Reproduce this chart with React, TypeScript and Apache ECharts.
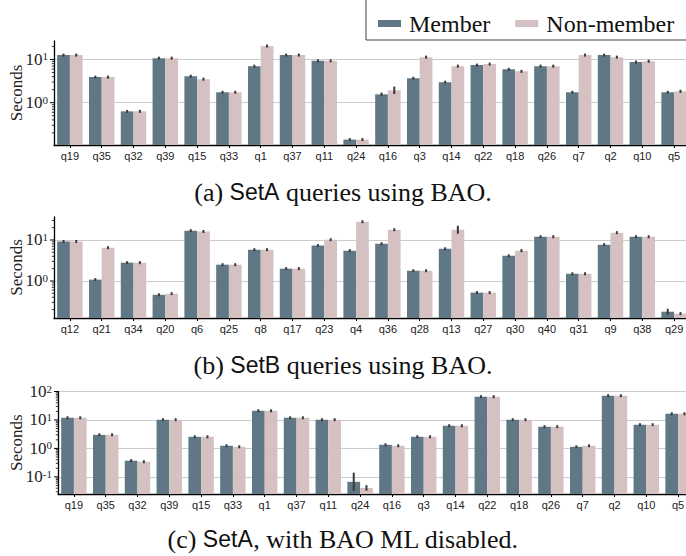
import React, { useEffect, useRef } from 'react';
import * as echarts from 'echarts';

// ---------- data ----------
const catsA = ['q19', 'q35', 'q32', 'q39', 'q15', 'q33', 'q1', 'q37', 'q11', 'q24', 'q16', 'q3', 'q14', 'q22', 'q18', 'q26', 'q7', 'q2', 'q10', 'q5'];
const memberA = [12.6, 3.9, 0.63, 10.7, 4.1, 1.74, 7.0, 12.6, 9.3, 0.14, 1.56, 3.67, 2.97, 7.4, 5.9, 7.0, 1.74, 12.6, 8.7, 1.74];
const nonMemberA = [12.6, 3.9, 0.63, 10.7, 3.5, 1.74, 20.4, 12.6, 9.3, 0.14, 1.93, 11.3, 7.0, 7.8, 5.3, 7.0, 12.6, 11.3, 9.1, 1.83];
// multiplicative error spread (value*f .. value/f)
const errMemberA = [1.02, 1.01, 1.01, 1.01, 1.02, 1.01, 1.02, 1.01, 1.02, 1.01, 1.1, 1.01, 1.02, 1.02, 1.03, 1.01, 1.01, 1.07, 1.06, 1.02];
const errNonMemberA = [1.01, 1.01, 1.01, 1.01, 1.01, 1.01, 1.01, 1.01, 1.01, 1.05, 1.22, 1.01, 1.01, 1.06, 1.01, 1.01, 1.02, 1.01, 1.06, 1.02];

const catsB = ['q12', 'q21', 'q34', 'q20', 'q6', 'q25', 'q8', 'q17', 'q23', 'q4', 'q36', 'q28', 'q13', 'q27', 'q30', 'q40', 'q31', 'q9', 'q38', 'q29'];
const memberB = [9.2, 1.08, 2.8, 0.46, 16.9, 2.5, 5.8, 2.0, 7.3, 5.5, 8.1, 1.78, 6.1, 0.52, 4.1, 12.0, 1.5, 7.7, 12.0, 0.178];
const nonMemberB = [9.2, 6.5, 2.8, 0.49, 16.2, 2.5, 5.8, 2.0, 10.2, 27.9, 17.8, 1.78, 17.8, 0.52, 5.5, 12.0, 1.5, 15.1, 12.0, 0.16];
const errMemberB = [1.01, 1.04, 1.01, 1.01, 1.04, 1.01, 1.01, 1.01, 1.01, 1.01, 1.01, 1.01, 1.02, 1.01, 1.01, 1.01, 1.01, 1.01, 1.01, 1.18];
const errNonMemberB = [1.01, 1.01, 1.01, 1.02, 1.01, 1.01, 1.01, 1.01, 1.04, 1.01, 1.01, 1.01, 1.25, 1.02, 1.01, 1.01, 1.01, 1.01, 1.01, 1.02];

const catsC = catsA;
const memberC = [11.9, 3.0, 0.37, 10.2, 2.56, 1.24, 21, 11.9, 10.2, 0.067, 1.34, 2.56, 6.25, 65.6, 10.2, 5.8, 1.14, 71, 6.8, 16.5];
const nonMemberC = [11.9, 3.0, 0.34, 10.2, 2.56, 1.14, 21, 11.9, 10.2, 0.041, 1.24, 2.56, 6.25, 65.6, 10.2, 5.8, 1.24, 71, 6.8, 16.5];
const errMemberC = [1.01, 1.01, 1.08, 1.01, 1.01, 1.02, 1.01, 1.01, 1.02, 2.1, 1.1, 1.01, 1.01, 1.01, 1.01, 1.01, 1.01, 1.01, 1.01, 1.01];
const errNonMemberC = [1.01, 1.01, 1.05, 1.01, 1.01, 1.01, 1.01, 1.01, 1.02, 1.25, 1.04, 1.01, 1.01, 1.01, 1.01, 1.05, 1.04, 1.01, 1.01, 1.01];

const seriesNames = ['Member', 'Non-member'];
const captionsA = ['(a) ', 'SetA', ' queries using BAO.'];
const captionsB = ['(b) ', 'SetB', ' queries using BAO.'];
const captionsC = ['(c) ', 'SetA', ', with BAO ML disabled.'];

// ---------- style ----------
const MEMBER_COLOR = '#607886';
const NONMEMBER_COLOR = '#d5c1c1';
const SERIF = 'Liberation Serif';
const SANS = 'Liberation Sans';

const panels = [
  { cats: catsA, member: memberA, non: nonMemberA, errM: errMemberA, errN: errNonMemberA, min: 0.105, max: 26.7, exps: [0, 1], top: 41, height: 104, left: 54, caption: captionsA, capTop: 179, maxLine: false, nameGap: 29 },
  { cats: catsB, member: memberB, non: nonMemberB, errM: errMemberB, errN: errNonMemberB, min: 0.125, max: 36.4, exps: [0, 1], top: 217, height: 101, left: 54, caption: captionsB, capTop: 352, maxLine: false, nameGap: 29 },
  { cats: catsC, member: memberC, non: nonMemberC, errM: errMemberC, errN: errNonMemberC, min: 0.025, max: 100, exps: [-1, 0, 1, 2], top: 391.5, height: 102.5, left: 58, caption: captionsC, capTop: 526, maxLine: true, nameGap: 33 },
];

function powLabel(v: number, exps: number[]): string {
  const e = Math.log10(v);
  const r = Math.round(e);
  if (Math.abs(e - r) > 1e-6 || exps.indexOf(r) < 0) return '';
  return `{b|10}{s|${r < 0 ? '-' + -r : r}}`;
}

function tickValues(min: number, max: number): number[][] {
  const out: number[][] = [];
  for (let d = Math.floor(Math.log10(min)); d <= Math.ceil(Math.log10(max)); d++) {
    for (let k = 1; k <= 9; k++) {
      const v = k * Math.pow(10, d);
      if (v >= min * 0.9999 && v <= max * 1.0001) out.push([0, v, k === 1 ? 1 : 0]);
    }
  }
  return out;
}

export default function App() {
  const ref = useRef<HTMLDivElement>(null);

  useEffect(() => {
    if (!ref.current) return;
    const chart = echarts.init(ref.current, null, { renderer: 'svg' });

    const grid: any[] = [];
    const xAxis: any[] = [];
    const yAxis: any[] = [];
    const series: any[] = [];
    const title: any[] = [];

    panels.forEach((p, i) => {
      grid.push({ left: p.left, top: p.top, height: p.height, width: 636, containLabel: false, outerBoundsMode: 'none' });
      xAxis.push({
        type: 'category', gridIndex: i, data: p.cats,
        axisLine: { show: true, lineStyle: { color: '#000', width: 1.3 } },
        axisTick: { show: true, alignWithLabel: true, length: 3, lineStyle: { color: '#000', width: 1 } },
        axisLabel: { show: true, interval: 0, margin: 5, fontFamily: SANS, fontSize: 11, color: '#222' },
        splitLine: { show: false },
      });
      yAxis.push({
        type: 'log', logBase: 10, gridIndex: i, min: p.min, max: p.max,
        name: 'Seconds', nameLocation: 'middle', nameGap: p.nameGap, nameMoveOverlap: false,
        nameTextStyle: { fontFamily: SERIF, fontSize: 17, color: '#222' },
        axisLine: { show: true, lineStyle: { color: '#000', width: 1.3 } },
        axisTick: { show: false },
        axisLabel: {
          show: true, margin: 6, color: '#222', fontFamily: SERIF,
          formatter: (v: number) => powLabel(v, p.exps),
          rich: {
            b: { fontFamily: SERIF, fontSize: 17, color: '#222', lineHeight: 17 },
            s: { fontFamily: SERIF, fontSize: 11, color: '#222', verticalAlign: 'top', lineHeight: 11, padding: [0, 0, 8, 0] },
          },
        },
        splitLine: { show: true, showMinLine: false, showMaxLine: p.maxLine, lineStyle: { color: '#cccccc', width: 1 } },
      });
      [p.member, p.non].forEach((vals, side) => {
        series.push({
          type: 'custom', name: seriesNames[side], xAxisIndex: i, yAxisIndex: i, clip: false, z: 2,
          itemStyle: { color: side === 0 ? MEMBER_COLOR : NONMEMBER_COLOR },
          encode: { x: 0, y: 1 },
          data: vals.map((v, k) => [k, v]),
          renderItem: (params: any, api: any) => {
            const cat = api.value(0);
            const v = api.value(1);
            const band = api.size([1, 1])[0];
            const top = api.coord([cat, v]);
            const bottom = api.coord([cat, p.min]);
            const w = band * 0.4;
            const x = side === 0 ? top[0] - w : top[0];
            return { type: 'rect', shape: { x, y: top[1], width: w, height: bottom[1] - top[1] }, style: { fill: api.visual('color') } };
          },
        });
      });
      const errData: number[][] = [];
      p.member.forEach((v, k) => errData.push([k, 0, v, p.errM[k]]));
      p.non.forEach((v, k) => errData.push([k, 1, v, p.errN[k]]));
      series.push({
        type: 'custom', name: 'err' + i, xAxisIndex: i, yAxisIndex: i, clip: false, z: 5,
        encode: { x: 0, y: 2 },
        data: errData,
        renderItem: (params: any, api: any) => {
          const cat = api.value(0);
          const side = api.value(1);
          const v = api.value(2);
          const f = api.value(3);
          const band = api.size([1, 1])[0];
          const c = api.coord([cat, v]);
          const x = c[0] + (side === 0 ? -0.2 : 0.2) * band;
          let y1 = api.coord([cat, v * f])[1];
          let y2 = api.coord([cat, v / f])[1];
          if (Math.abs(y2 - y1) < 3) { y1 = c[1] - 1.5; y2 = c[1] + 1.5; }
          return { type: 'line', shape: { x1: x, y1, x2: x, y2 }, style: { stroke: '#3a3a3a', lineWidth: 2 } };
        },
      });
      series.push({
        type: 'custom', name: 'ticks' + i, xAxisIndex: i, yAxisIndex: i, clip: false, z: 5, silent: true,
        encode: { x: 0, y: 1 },
        data: tickValues(p.min, p.max),
        renderItem: (params: any, api: any) => {
          const v = api.value(1);
          const major = api.value(2);
          const band = api.size([1, 1])[0];
          const pt = api.coord([0, v]);
          const x = pt[0] - band / 2;
          const len = major ? 4 : 2.2;
          return { type: 'line', shape: { x1: x - len, y1: pt[1], x2: x, y2: pt[1] }, style: { stroke: '#000', lineWidth: major ? 1 : 0.8 } };
        },
      });
      title.push({
        text: `{r|${p.caption[0]}}{s|${p.caption[1]}}{r|${p.caption[2]}}`,
        left: 'center', top: p.capTop, padding: 0,
        textStyle: {
          fontFamily: SERIF, fontSize: 26, fontWeight: 'normal', color: '#111',
          rich: {
            r: { fontFamily: SERIF, fontSize: 26, color: '#111' },
            s: { fontFamily: SANS, fontSize: 23, color: '#111' },
          },
        },
      });
    });

    chart.setOption({
      animation: false,
      backgroundColor: '#ffffff',
      title,
      legend: {
        data: seriesNames,
        left: 366, top: -4, width: 360,
        orient: 'horizontal',
        padding: [15.5, 20, 4.5, 12],
        icon: 'rect', itemWidth: 23, itemHeight: 7, itemGap: 25,
        borderColor: '#444', borderWidth: 1, borderRadius: 0,
        selectedMode: false,
        textStyle: { fontFamily: SERIF, fontSize: 24, color: '#111', padding: [0, 0, 0, 3] },
      },
      grid, xAxis, yAxis, series,
    });

    return () => chart.dispose();
  }, []);

  return <div ref={ref} style={{ position: 'fixed', left: 0, top: 0, width: 686, height: 556 }} />;
}
